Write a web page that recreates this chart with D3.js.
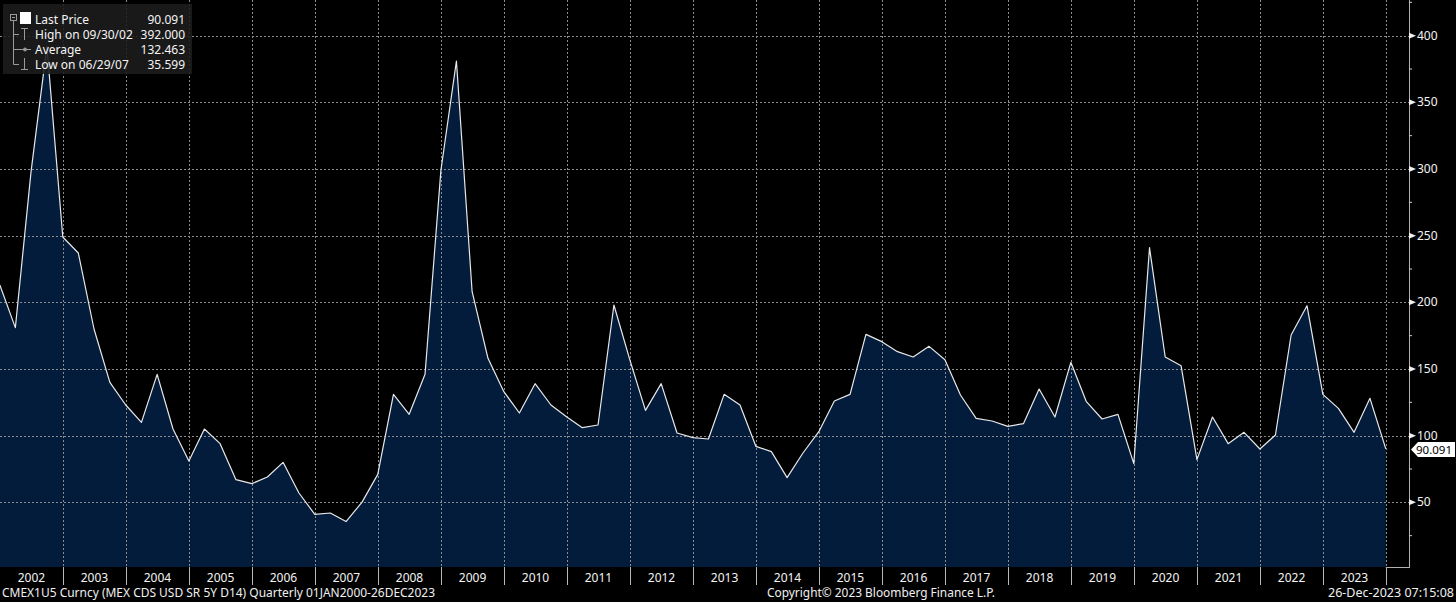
<!DOCTYPE html>
<html>
<head>
<meta charset="utf-8">
<script src="https://cdn.jsdelivr.net/npm/d3@7"></script>
<style>
  html, body { margin: 0; padding: 0; background: #000; }
  svg { display: block; font-family: "Noto Sans", "DejaVu Sans", sans-serif; }
</style>
</head>
<body>
<script>
// quarterly close, Q4 2001 .. Q4 2023
var values = [
    213, 181, 298, 392, 249, 237, 180, 140, 123, 110, 146, 105,
    81, 105, 94, 67, 64, 69, 80, 57, 41, 42, 35.599, 50,
    71, 131, 116, 146, 299, 381, 208, 158, 133, 117, 139, 123,
    114, 106, 108, 198, 157, 119, 139, 102, 98.5, 97.5, 131, 123,
    92, 88, 68.5, 87, 103, 126, 131, 176, 170.5, 163, 159, 167,
    157, 130.5, 113, 111, 107, 109, 135, 114, 155, 125.5, 112.5, 116,
    79, 241, 159, 152.5, 82, 114, 94, 102.5, 90, 100.5, 175.5, 197.5,
    131, 120.5, 102.5, 128, 90.091
];
var years = d3.range(2002, 2024);
var yTicks = [50, 100, 150, 200, 250, 300, 350, 400];
var yMinor = [25, 75, 125, 175, 225, 275, 325, 375, 425];
var legendLabels = ["Last Price", "High on 09/30/02", "Average", "Low on 06/29/07"];
var legendValues = ["90.091", "392.000", "132.463", "35.599"];
var lastValue = "90.091";

function init() {
    var W = 1456, H = 602;
    var plotRight = 1409;   // y axis line
    var plotBottom = 567;

    // quarter end dates
    var dates = values.map(function(d, i) { return new Date(2001, 12 + 3 * i, 0); });

    var xScale = d3.scaleTime()
        .domain([new Date(2002, 0, 1), new Date(2024, 0, 1)])
        .range([0, 1386]);

    var yScale = d3.scaleLinear()
        .domain([0, 400])
        .range([569, 35.67]);

    var svg = d3.select("body").append("svg")
        .attr("width", W)
        .attr("height", H);

    svg.append("rect").attr("width", W).attr("height", H).attr("fill", "#000");

    // area fill
    var area = d3.area()
        .x(function(d, i) { return xScale(dates[i]); })
        .y0(plotBottom)
        .y1(function(d) { return yScale(d); });

    svg.append("path")
        .datum(values)
        .attr("d", area)
        .attr("fill", "#031c3b");

    // grid
    var grid = svg.append("g")
        .attr("stroke", "#8c8c8c")
        .attr("stroke-width", 1)
        .attr("stroke-dasharray", "2,2");

    grid.selectAll(".hg")
        .data(yTicks)
        .enter().append("line")
        .attr("x1", 0).attr("x2", plotRight)
        .attr("y1", function(d) { return Math.round(yScale(d)) + 0.5; })
        .attr("y2", function(d) { return Math.round(yScale(d)) + 0.5; });

    grid.selectAll(".vg")
        .data(years)
        .enter().append("line")
        .attr("x1", function(d) { return Math.round(xScale(new Date(d + 1, 0, 1))) + 0.5; })
        .attr("x2", function(d) { return Math.round(xScale(new Date(d + 1, 0, 1))) + 0.5; })
        .attr("y1", 0).attr("y2", plotBottom);

    // price line
    var line = d3.line()
        .x(function(d, i) { return xScale(dates[i]); })
        .y(function(d) { return yScale(d); });

    svg.append("path")
        .datum(values)
        .attr("d", line)
        .attr("fill", "none")
        .attr("stroke", "#e8e8e8")
        .attr("stroke-width", 1.2)
        .attr("stroke-linejoin", "round");

    // frame
    svg.append("line")
        .attr("x1", xScale(dates[dates.length - 1])).attr("x2", plotRight)
        .attr("y1", plotBottom + 0.5).attr("y2", plotBottom + 0.5)
        .attr("stroke", "#b0b0b0");
    svg.append("line")
        .attr("x1", plotRight + 0.5).attr("x2", plotRight + 0.5)
        .attr("y1", 0).attr("y2", plotBottom + 1)
        .attr("stroke", "#b0b0b0");

    // y axis ticks
    svg.selectAll(".ytri")
        .data(yTicks)
        .enter().append("path")
        .attr("d", function(d) {
            var y = yScale(d);
            return "M" + plotRight + "," + (y - 3) + "L" + (plotRight + 7) + "," + y + "L" + plotRight + "," + (y + 3) + "Z";
        })
        .attr("fill", "#f0f0f0");

    svg.selectAll(".yminor")
        .data(yMinor)
        .enter().append("line")
        .attr("x1", plotRight).attr("x2", plotRight + 3)
        .attr("y1", function(d) { return yScale(d); })
        .attr("y2", function(d) { return yScale(d); })
        .attr("stroke", "#d0d0d0");

    svg.selectAll(".ylab")
        .data(yTicks)
        .enter().append("text")
        .attr("x", plotRight + 8)
        .attr("y", function(d) { return yScale(d) + 4; })
        .attr("fill", "#f4f4f4")
        .attr("font-size", "12px")
        .text(function(d) { return d; });

    // last price tag
    var ly = yScale(values[values.length - 1]) + 0.5;
    svg.append("path")
        .attr("d", "M" + (plotRight + 2) + "," + ly + "L" + (plotRight + 9) + "," + (ly - 7.5) +
            "L" + (W - 1) + "," + (ly - 7.5) + "L" + (W - 1) + "," + (ly + 7.5) +
            "L" + (plotRight + 9) + "," + (ly + 7.5) + "Z")
        .attr("fill", "#ffffff");
    svg.append("text")
        .attr("x", plotRight + 7)
        .attr("y", ly + 5)
        .attr("fill", "#000")
        .attr("font-size", "11.5px")
        .text(lastValue);

    // x axis band
    svg.selectAll(".xsep")
        .data(years)
        .enter().append("line")
        .attr("x1", function(d) { return Math.round(xScale(new Date(d + 1, 0, 1))) + 0.5; })
        .attr("x2", function(d) { return Math.round(xScale(new Date(d + 1, 0, 1))) + 0.5; })
        .attr("y1", plotBottom).attr("y2", 585)
        .attr("stroke", "#b8b8b8");

    svg.selectAll(".xlab")
        .data(years)
        .enter().append("text")
        .attr("x", function(d) { return (xScale(new Date(d, 0, 1)) + xScale(new Date(d + 1, 0, 1))) / 2; })
        .attr("y", 582)
        .attr("text-anchor", "middle")
        .attr("fill", "#f4f4f4")
        .attr("font-size", "12px")
        .text(function(d) { return d; });

    // footer
    var foot = svg.append("g").attr("fill", "#f0f0f0").attr("font-size", "12px");
    foot.append("text").attr("x", 2).attr("y", 597)
        .attr("textLength", 433).attr("lengthAdjust", "spacingAndGlyphs")
        .text("CMEX1U5 Curncy (MEX CDS USD SR 5Y D14)  Quarterly 01JAN2000-26DEC2023");
    foot.append("text").attr("x", 767).attr("y", 597)
        .attr("textLength", 228).attr("lengthAdjust", "spacingAndGlyphs")
        .text("Copyright\u00a9 2023 Bloomberg Finance L.P.");
    foot.append("text").attr("x", 1328).attr("y", 597)
        .attr("textLength", 126).attr("lengthAdjust", "spacingAndGlyphs")
        .text("26-Dec-2023 07:15:08");

    // legend
    var lg = svg.append("g");
    lg.append("rect")
        .attr("x", 3).attr("y", 4).attr("width", 189).attr("height", 70)
        .attr("fill", "#1c1c1c").attr("opacity", 0.88);

    var rowY = [19, 34, 49, 64];
    var tree = lg.append("g").attr("stroke", "#9a9a9a").attr("fill", "none").attr("stroke-width", 1);
    tree.append("rect").attr("x", 10.5).attr("y", 14.5).attr("width", 6).attr("height", 6);
    tree.append("line").attr("x1", 12).attr("x2", 15).attr("y1", 17.5).attr("y2", 17.5);
    tree.append("line").attr("x1", 13.5).attr("x2", 13.5).attr("y1", 21).attr("y2", rowY[3] + 0.5);
    rowY.slice(1).forEach(function(y) {
        tree.append("line").attr("x1", 13.5).attr("x2", 19).attr("y1", y + 0.5).attr("y2", y + 0.5);
    });
    // high icon
    tree.append("line").attr("x1", 24.5).attr("x2", 24.5).attr("y1", 28).attr("y2", 40);
    tree.append("line").attr("x1", 21).attr("x2", 28).attr("y1", 28.5).attr("y2", 28.5);
    // average icon
    tree.append("line").attr("x1", 19).attr("x2", 31).attr("y1", 49.5).attr("y2", 49.5);
    tree.append("circle").attr("cx", 25).attr("cy", 49.5).attr("r", 1.5).attr("fill", "#9a9a9a");
    // low icon
    tree.append("line").attr("x1", 24.5).attr("x2", 24.5).attr("y1", 58).attr("y2", 70);
    tree.append("line").attr("x1", 21).attr("x2", 28).attr("y1", 69.5).attr("y2", 69.5);

    lg.append("rect").attr("x", 20).attr("y", 12).attr("width", 11).attr("height", 12).attr("fill", "#ffffff");

    lg.selectAll(".ltxt")
        .data(legendLabels)
        .enter().append("text")
        .attr("x", 35)
        .attr("y", function(d, i) { return rowY[i] + 4.5; })
        .attr("fill", "#f4f4f4")
        .attr("font-size", "12px")
        .text(function(d) { return d; });

    lg.selectAll(".lval")
        .data(legendValues)
        .enter().append("text")
        .attr("x", 185)
        .attr("y", function(d, i) { return rowY[i] + 4.5; })
        .attr("text-anchor", "end")
        .attr("fill", "#f4f4f4")
        .attr("font-size", "12px")
        .text(function(d) { return d; });
}

window.onload = init;
</script>
</body>
</html>
